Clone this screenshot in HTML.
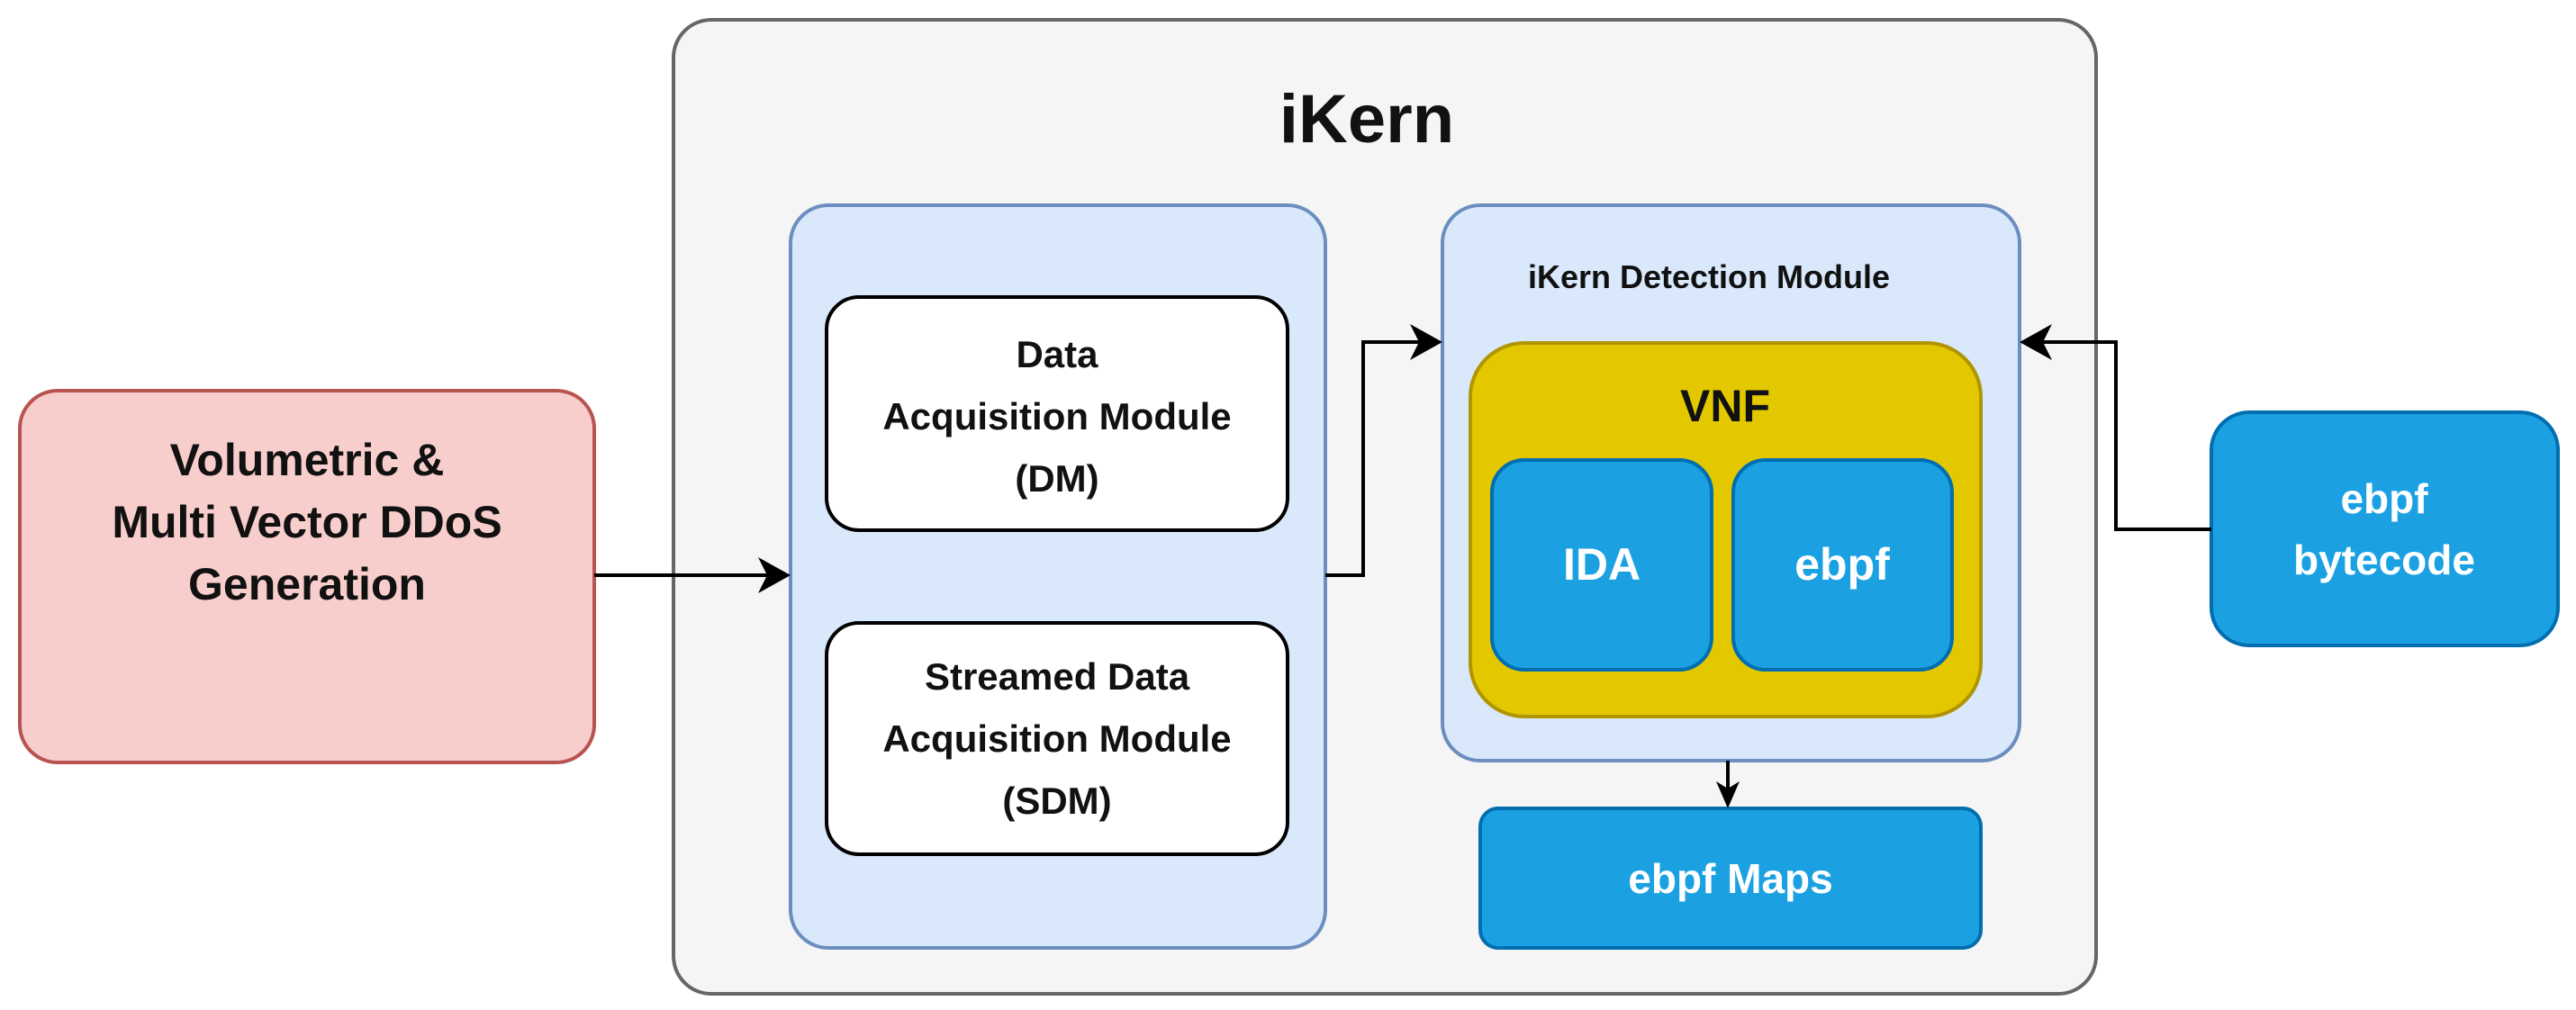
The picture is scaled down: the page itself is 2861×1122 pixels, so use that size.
<!DOCTYPE html>
<html><head><meta charset="utf-8"><style>
html,body{margin:0;padding:0;background:#fff;}
svg{display:block;}
text{font-family:"Liberation Sans",sans-serif;font-weight:bold;text-anchor:middle;}
</style></head><body>
<svg width="2861" height="1122" viewBox="0 0 2861 1122" xmlns="http://www.w3.org/2000/svg">
<rect x="748" y="22" width="1580" height="1082" rx="42" fill="#f5f5f5" stroke="#666" stroke-width="4"/>
<text x="1518" y="158" font-size="76" fill="#111">iKern</text>

<rect x="22" y="434" width="638" height="413" rx="42" fill="#f8cecc" stroke="#b85450" stroke-width="4"/>
<text x="341" y="528" font-size="50" fill="#111">Volumetric &amp;</text>
<text x="341" y="597" font-size="50" fill="#111">Multi Vector DDoS</text>
<text x="341" y="666" font-size="50" fill="#111">Generation</text>

<rect x="878" y="228" width="594" height="825" rx="42" fill="#dae8fc" stroke="#6c8ebf" stroke-width="4"/>
<rect x="918" y="330" width="512" height="259" rx="36" fill="#fff" stroke="#000" stroke-width="4"/>
<text x="1174" y="408" font-size="42" fill="#111">Data</text>
<text x="1174" y="477" font-size="42" fill="#111">Acquisition Module</text>
<text x="1174" y="546" font-size="42" fill="#111">(DM)</text>
<rect x="918" y="692" width="512" height="257" rx="36" fill="#fff" stroke="#000" stroke-width="4"/>
<text x="1174" y="766" font-size="42" fill="#111">Streamed Data</text>
<text x="1174" y="835" font-size="42" fill="#111">Acquisition Module</text>
<text x="1174" y="904" font-size="42" fill="#111">(SDM)</text>

<rect x="1602" y="228" width="641" height="617" rx="42" fill="#dae8fc" stroke="#6c8ebf" stroke-width="4"/>
<text x="1898" y="320" font-size="36" fill="#111">iKern Detection Module</text>
<rect x="1633" y="381" width="567" height="415" rx="60" fill="#e3c800" stroke="#b09500" stroke-width="4"/>
<text x="1916" y="468" font-size="50" fill="#111">VNF</text>
<rect x="1657" y="511" width="244" height="233" rx="36" fill="#1ba1e2" stroke="#006eaf" stroke-width="4"/>
<text x="1779" y="644" font-size="50" fill="#fff">IDA</text>
<rect x="1925" y="511" width="243" height="233" rx="36" fill="#1ba1e2" stroke="#006eaf" stroke-width="4"/>
<text x="2046" y="644" font-size="50" fill="#fff">ebpf</text>

<rect x="1644" y="898" width="556" height="155" rx="20" fill="#1ba1e2" stroke="#006eaf" stroke-width="4"/>
<text x="1922" y="992" font-size="46" fill="#fff">ebpf Maps</text>

<rect x="2456" y="458" width="385" height="259" rx="42" fill="#1ba1e2" stroke="#006eaf" stroke-width="4"/>
<text x="2648" y="570" font-size="46" fill="#fff">ebpf</text>
<text x="2648" y="638" font-size="46" fill="#fff">bytecode</text>

<g stroke="#000" stroke-width="4" fill="none">
<path d="M660 639 H860"/>
<path d="M1472 639 H1514 V380 H1584"/>
<path d="M2456 588 H2350 V380 H2262"/>
<path d="M1919 845 V880"/>
</g>
<g fill="#000">
<path d="M878 639 L842 619 L852 639 L842 659 Z"/>
<path d="M1602 380 L1566 360 L1576 380 L1566 400 Z"/>
<path d="M2243 380 L2279 360 L2269 380 L2279 400 Z"/>
<path d="M1919 898 L1906 868 L1919 876 L1932 868 Z"/>
</g>
</svg>
</body></html>
